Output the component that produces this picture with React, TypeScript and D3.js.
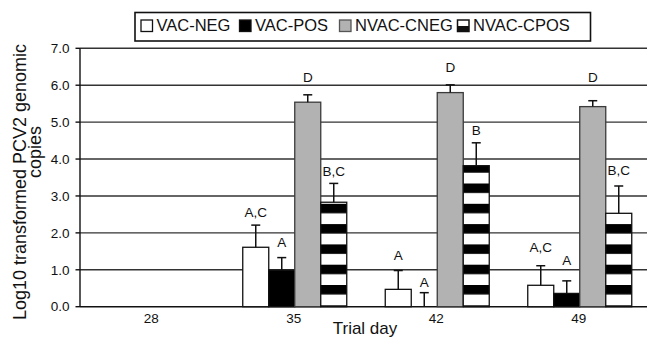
import React from 'react';
import * as d3 from 'd3';

const categories = ['28', '35', '42', '49'];
const seriesNames = ['VAC-NEG', 'VAC-POS', 'NVAC-CNEG', 'NVAC-CPOS'];

const vacNeg = [null, 1.61, 0.47, 0.58];
const vacPos = [null, 0.99, 0.0, 0.36];
const nvacCneg = [null, 5.54, 5.8, 5.42];
const nvacCpos = [null, 2.83, 3.82, 2.53];

const vacNegErr = [null, 0.6, 0.51, 0.53];
const vacPosErr = [null, 0.34, 0.38, 0.34];
const nvacCnegErr = [null, 0.2, 0.21, 0.16];
const nvacCposErr = [null, 0.51, 0.62, 0.74];

const vacNegLetters = ['', 'A,C', 'A', 'A,C'];
const vacPosLetters = ['', 'A', 'A', 'A'];
const nvacCnegLetters = ['', 'D', 'D', 'D'];
const nvacCposLetters = ['', 'B,C', 'B', 'B,C'];

// heights (in log10 units) at which the significance letters sit
const vacNegLetterAt = [null, 2.43, 1.27, 1.47];
const vacPosLetterAt = [null, 1.63, 0.54, 1.13];
const nvacCnegLetterAt = [null, 6.1, 6.36, 6.1];
const nvacCposLetterAt = [null, 3.55, 4.65, 3.57];

const yTicks = [0, 1, 2, 3, 4, 5, 6, 7];

const values = [vacNeg, vacPos, nvacCneg, nvacCpos];
const errors = [vacNegErr, vacPosErr, nvacCnegErr, nvacCposErr];
const letters = [vacNegLetters, vacPosLetters, nvacCnegLetters, nvacCposLetters];
const letterAt = [vacNegLetterAt, vacPosLetterAt, nvacCnegLetterAt, nvacCposLetterAt];

const W = 647;
const H = 340;
const FONT = 'Liberation Sans, Arial, Helvetica, sans-serif';

export default function App() {
  const x = d3.scaleBand<string>().domain(categories).range([80, 650]).paddingInner(0).paddingOuter(0);
  const y = d3.scaleLinear().domain([0, 7]).range([306.7, 48.3]);
  const barW = 26;
  const groupW = barW * seriesNames.length;
  const inner = d3
    .scaleBand<string>()
    .domain(seriesNames)
    .range([0, groupW]);

  const fills = ['#ffffff', '#000000', '#b2b2b2', 'url(#stripes)'];
  const strokes = ['#111', '#111', '#3a3a3a', '#111'];

  const bars: React.ReactNode[] = [];
  const errs: React.ReactNode[] = [];
  const labs: React.ReactNode[] = [];

  categories.forEach((c, ci) => {
    const gx = (x(c) as number) + x.bandwidth() / 2 - groupW / 2 + 1;
    seriesNames.forEach((s, si) => {
      const v = values[si][ci];
      if (v === null || v === undefined) return;
      const bx = gx + (inner(s) as number);
      const top = y(v);
      const bottom = y(0);
      if (v > 0) {
        bars.push(
          <rect
            key={`b${ci}-${si}`}
            x={bx}
            y={top}
            width={barW}
            height={bottom - top}
            fill={fills[si]}
            stroke={strokes[si]}
            strokeWidth={1.3}
          />
        );
      }
      const e = errors[si][ci] as number;
      const cx = bx + barW / 2;
      const et = y(v + e);
      errs.push(
        <g key={`e${ci}-${si}`} stroke="#111" strokeWidth={1.5}>
          <line x1={cx} x2={cx} y1={top} y2={et} />
          <line x1={cx - 4.5} x2={cx + 4.5} y1={et} y2={et} />
        </g>
      );
      const la = letterAt[si][ci] as number;
      labs.push(
        <text
          key={`l${ci}-${si}`}
          x={cx}
          y={y(la)}
          textAnchor="middle"
          fontSize={13.5}
          fontFamily={FONT}
          fill="#111"
        >
          {letters[si][ci]}
        </text>
      );
    });
  });

  // legend layout
  const legendItems = [
    { name: seriesNames[0], icon: 141, text: 156.5 },
    { name: seriesNames[1], icon: 239.5, text: 255 },
    { name: seriesNames[2], icon: 339.5, text: 355 },
    { name: seriesNames[3], icon: 457.5, text: 473 },
  ];

  return (
    <svg
      width={W}
      height={H}
      style={{ position: 'absolute', left: 0, top: 0, background: '#fff' }}
      xmlns="http://www.w3.org/2000/svg"
    >
      <defs>
        <pattern id="stripes" patternUnits="userSpaceOnUse" x={0} y={285} width={20} height={20.3}>
          <rect x={0} y={0} width={20} height={20.3} fill="#fff" />
          <rect x={0} y={0} width={20} height={9.5} fill="#000" />
        </pattern>
      </defs>
      <rect x={0} y={0} width={W} height={H} fill="#fff" />

      {/* gridlines */}
      {yTicks.map((t) => (
        <line
          key={`g${t}`}
          x1={80}
          x2={W}
          y1={y(t)}
          y2={y(t)}
          stroke={t === 0 ? '#111' : '#333'}
          strokeWidth={1.4}
        />
      ))}
      {/* y axis */}
      <line x1={80} x2={80} y1={y(7)} y2={y(0)} stroke="#111" strokeWidth={1.4} />
      {yTicks.map((t) => (
        <line key={`t${t}`} x1={75.5} x2={80} y1={y(t)} y2={y(t)} stroke="#111" strokeWidth={1.4} />
      ))}
      {yTicks.map((t) => (
        <text
          key={`yl${t}`}
          x={69.5}
          y={y(t)}
          dy="0.35em"
          textAnchor="end"
          fontSize={13.5}
          fontFamily={FONT}
          fill="#111"
        >
          {d3.format('.1f')(t)}
        </text>
      ))}

      {bars}
      {errs}
      {labs}

      {/* x labels */}
      {categories.map((c) => (
        <text
          key={`xl${c}`}
          x={(x(c) as number) + x.bandwidth() / 2}
          y={323}
          textAnchor="middle"
          fontSize={13.5}
          fontFamily={FONT}
          fill="#111"
        >
          {c}
        </text>
      ))}
      <text x={365} y={334} textAnchor="middle" fontSize={17} fontFamily={FONT} fill="#111">
        Trial day
      </text>

      {/* y title */}
      <text
        transform="translate(25.5,182) rotate(-90)"
        textAnchor="middle"
        fontSize={18}
        fontFamily={FONT}
        fill="#111"
      >
        Log10 transformed PCV2 genomic
      </text>
      <text
        transform="translate(40.5,152) rotate(-90)"
        textAnchor="middle"
        fontSize={18}
        fontFamily={FONT}
        fill="#111"
      >
        copies
      </text>

      {/* legend */}
      <rect x={135} y={12.5} width={455.5} height={28.5} fill="#fff" stroke="#111" strokeWidth={1.6} />
      {legendItems.map((it, i) => (
        <g key={`lg${i}`}>
          {i === 3 ? (
            <g>
              <rect x={it.icon} y={20} width={11.5} height={11.5} fill="#fff" stroke="#111" strokeWidth={1.5} />
              <rect x={it.icon} y={26} width={11.5} height={5.5} fill="#111" />
            </g>
          ) : (
            <rect
              x={it.icon}
              y={20}
              width={11.5}
              height={11.5}
              fill={fills[i]}
              stroke={i === 2 ? '#555' : '#111'}
              strokeWidth={1.3}
            />
          )}
          <text x={it.text} y={31} fontSize={16.5} fontFamily={FONT} fill="#111">
            {it.name}
          </text>
        </g>
      ))}
    </svg>
  );
}
